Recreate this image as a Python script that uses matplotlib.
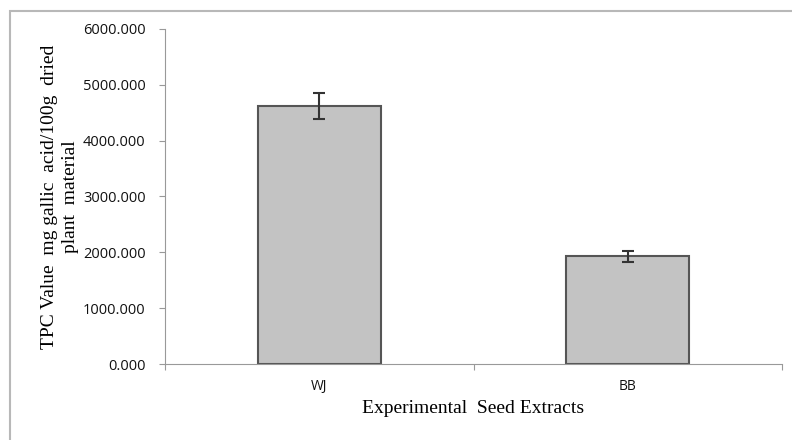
import numpy as np
import matplotlib.pyplot as plt
from matplotlib.patches import Rectangle

# ==========================
# DATA
# ==========================

categories = ["WJ", "BB"]
tpc_values = [4620, 1930]
tpc_errors = [230, 100]
y_ticks = [0, 1000, 2000, 3000, 4000, 5000, 6000]

# ==========================
# FIGURE
# ==========================

fig = plt.figure(figsize=(7.92, 4.4), dpi=100)

# outer chart border (grey frame like the spreadsheet export)
fig.patches.append(Rectangle(
    (10/792, -0.1), 1.2, 0.975 + 0.1,
    transform=fig.transFigure, fill=False,
    edgecolor="#b8b8b8", linewidth=1.5
))

ax = fig.add_axes([165/792, 76/440, 617/792, 335/440])

x = np.arange(len(categories))

ax.bar(
    x, tpc_values, width=0.4,
    color="#c3c3c3", edgecolor="#555555", linewidth=1.5
)

ax.errorbar(
    x, tpc_values, yerr=tpc_errors,
    fmt="none", ecolor="#333333", elinewidth=1.5,
    capsize=4, capthick=1.5
)

ax.set_xlim(-0.5, 1.5)
ax.set_ylim(0, 6000)

ax.set_yticks(y_ticks)
ax.set_yticklabels(["%.3f" % v for v in y_ticks],
                   fontsize=10.5, family="Open Sans", color="#111111")

# category labels centred, tick marks between categories
ax.set_xticks([-0.5, 0.5, 1.5])
ax.set_xticklabels([])
ax.set_xticks(x, minor=True)
ax.set_xticklabels(categories, minor=True, fontsize=10,
                   family="Open Sans", color="#111111")
ax.tick_params(axis="x", which="minor", length=0, pad=11)
ax.tick_params(axis="x", which="major", length=4, color="#999999")
ax.tick_params(axis="y", length=4, color="#999999", pad=10)

for s in ["top", "right"]:
    ax.spines[s].set_visible(False)
ax.spines["left"].set_color("#999999")
ax.spines["bottom"].set_color("#999999")

ax.set_ylabel("TPC Value  mg gallic  acid/100g  dried\nplant  material",
              family="Liberation Serif", fontsize=14, linespacing=1.3)
ax.yaxis.set_label_coords(-0.14, 0.5)
ax.set_xlabel("Experimental  Seed Extracts",
              family="Liberation Serif", fontsize=14, labelpad=4)

fig.savefig("out.png", dpi=100)
